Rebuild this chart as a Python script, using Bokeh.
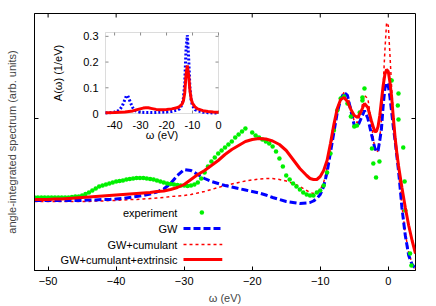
import math
from bokeh.plotting import figure
from bokeh.models import FixedTicker, Range1d, BoxAnnotation
from bokeh.core.properties import value
from bokeh.embed import file_html
from bokeh.resources import INLINE

# ---------------- data: main panel (arb. units) ----------------
omega_theory = ([float(w) for w in range(-52, -11)] +
                [-11.5, -11, -10.5, -10, -9.5, -9, -8.5, -8, -7.5, -7, -6.5, -6, -5.5, -5,
                 -4.5, -4, -3.5, -3, -2.5] +
                [-2, -1.75, -1.5, -1.25, -1, -0.75, -0.5, -0.25, 0, 0.25, 0.5, 0.75, 1,
                 1.25, 1.5, 1.75, 2] +
                [2.5, 3, 3.5, 4])

gw = [70, 70, 70, 70, 70, 70, 70, 70, 70.5, 70.5, 71, 71, 71.5, 72, 73, 74, 75, 76.5, 78.5,
      81.5, 87, 95, 101, 100, 96, 92, 89, 87, 85, 83.5, 82, 80.5, 79, 77.5, 75.5, 73, 71,
      69, 68, 67, 67.5,
      68, 69.5, 72, 76, 84, 98, 118, 138, 158, 171, 178, 175, 160, 145, 144, 152, 160, 152, 137,
      123, 119, 120, 130, 142, 165, 182, 188, 185, 173, 158, 143, 130, 115, 100, 82, 63,
      35, 15, 6, 2]

gw_cum = [69, 69, 69, 69, 69, 69, 69, 69, 69, 69.5, 69.5, 70, 70, 70.5, 71, 71, 71.5, 72,
          72.5, 73, 74, 74.5, 75, 76, 77.5, 79, 81, 83, 85, 86.5, 88, 89.5, 90.5, 91.5, 92,
          92, 91, 89.5, 87, 84, 80,
          78, 77, 78, 81, 88, 102, 120, 140, 160, 173, 178, 175, 163, 149, 148, 160, 175, 172, 148,
          122, 118, 120, 132, 152, 185, 220, 248, 245, 215, 182, 155, 135, 117, 100, 82, 65,
          37, 18, 7, 2]

gw_cum_ext = [71, 71, 71, 71.5, 71.5, 72, 72.5, 73, 73.5, 74, 74.5, 75, 75.5, 76, 76.5, 77,
              77.5, 78, 79, 79.5, 81, 83, 86, 91, 96, 100, 105, 110, 116, 121, 125, 129, 131,
              132, 131.5, 129.5, 126, 120, 111, 102, 95,
              92, 91, 91, 94, 100, 110, 127, 146, 162, 171, 173, 169, 161, 155, 153, 159, 167, 163, 150,
              139, 139, 144, 155, 170, 185, 196, 201, 199, 188, 173, 152, 133, 118, 105, 94, 83,
              63, 45, 30, 17]

omega_exp = [-52, -51.5, -51, -50.5, -50, -49.5, -49, -48.5, -48, -47.5, -47, -46.5, -46, -45.5,
             -45, -44.5, -44, -43.5, -43, -42.5, -42, -41.5, -41, -40.5, -40, -39.5, -39, -38.5,
             -38, -37.5, -37, -36.5, -36, -35.5, -35, -34.5, -34, -33.5, -33, -32.5, -32, -31.5,
             -31, -30.5, -30, -29.5, -29, -28.5, -28, -27.5, -27, -26.5, -26, -25.5, -25, -24.5,
             -24, -23.5, -23, -22.5, -22, -21.5, -21, -20, -19.5, -19, -18.5, -18, -17.5, -17,
             -16.5, -16, -15.5, -15, -14.5, -14, -13.5, -13, -12.5, -12, -11.5, -11, -10.5, -10,
             -9.5, -9, -8.5, -8, -7.5, -7, -6.5, -6, -5.5, -5, -4.6, -4.2, -3.8, -3.8, -3.5,
             -2.4, -2.2, -1.8, -1.3, 0.5, 1.4, 1.5, 1.5, 2.2, 2.4, 2.5, 3.2, 3.4]
experiment = [73, 73, 73, 73, 73, 73, 73, 73, 73, 73, 73, 73.5, 74, 74, 75, 76.5, 78, 80, 82,
              84, 85, 86, 87, 88, 89, 89.5, 90, 91, 91.5, 92, 92.5, 92.5, 92.5, 92, 91.5, 91,
              90, 89, 88, 87, 86.5, 86, 85.5, 85, 85, 84.5, 85, 86, 88, 92, 98, 104, 109, 113,
              117, 120, 123, 126, 129, 133, 136, 139, 142, 138, 135, 133, 131, 129, 127, 124,
              119, 112, 104, 95, 91, 87, 84, 81, 78, 76, 75, 75, 78, 80, 85, 98, 117, 140, 160,
              172, 174, 167, 154, 144, 145, 158, 170, 173, 182, 122, 107, 93, 109, 190, 165,
              177, 151, 123, 89, 60, 17, 5]

X_RANGE = (-52, 4)
Y_RANGE = (0, 257)
x_ticks = [-50, -40, -30, -20, -10, 0]
x_ticks_top = [-50, -40, -20, -10, 0]
y_ticks = [152]

# ---------------- data: inset A(omega) ----------------
omega_inset_gw = [-43.5, -42, -40, -39, -38, -37, -36, -35.5, -35, -34.5, -34, -33, -32, -31,
                  -30, -28, -25, -22, -20, -18, -16, -15, -14, -13.5, -13, -12.5, -12, -11.5,
                  -11, -10.5, -10, -9, -8, -6, -4, -2, 0]
a_gw = [0.002, 0.003, 0.005, 0.008, 0.015, 0.03, 0.055, 0.068, 0.07, 0.06, 0.045, 0.022, 0.011,
        0.007, 0.005, 0.004, 0.004, 0.005, 0.006, 0.008, 0.013, 0.018, 0.035, 0.06, 0.12, 0.25,
        0.305, 0.22, 0.1, 0.05, 0.03, 0.015, 0.01, 0.005, 0.003, 0.002, 0.002]
omega_inset_ext = [-43.5, -40, -36, -33, -31, -29, -28, -27, -26, -24, -22, -20, -18, -16, -15,
                   -14, -13.5, -13, -12.5, -12, -11.5, -11, -10.5, -10, -9, -8, -6, -4, -2, 0]
a_ext = [0.003, 0.004, 0.006, 0.01, 0.016, 0.021, 0.022, 0.022, 0.02, 0.016, 0.015, 0.016,
         0.018, 0.022, 0.027, 0.037, 0.05, 0.08, 0.15, 0.187, 0.15, 0.09, 0.055, 0.04, 0.025,
         0.018, 0.011, 0.008, 0.006, 0.005]
INSET_X = (-43.5, 0)
INSET_Y = (0, 0.315)
inset_x_ticks = [-40, -30, -20, -10, 0]
inset_y_ticks = [0, 0.1, 0.2, 0.3]
inset_y_labels = ["0", "0.1", "0.2", "0.3"]

# legend entries (label, row position in data units)
legend_labels = ["experiment", "GW", "GW+cumulant", "GW+cumulant+extrinsic"]
legend_rows = [58, 42, 26, 11]
legend_text_x = -31.0
legend_sample_x = [-30.1, -24.4]
legend_dot_x = -27.4

# ---------------- layout constants (pixels) ----------------
FIG_W, FIG_H = 436, 306
B_LEFT, B_RIGHT, B_TOP, B_BOTTOM = 34, 21, 13, 36
FRAME_W = FIG_W - B_LEFT - B_RIGHT
FRAME_H = FIG_H - B_TOP - B_BOTTOM
# inset frame box, relative to the main frame's top-left corner
IN_L, IN_R, IN_T, IN_B = 71, 184, 19, 100

FONT = "Liberation Sans"
BLUE = "#0000ff"
RED = "#ff0000"
GREEN = "#00f000"
GRAY = "#8c8c8c"

# ---------------- main figure ----------------
p = figure(width=FIG_W, height=FIG_H, x_range=X_RANGE, y_range=Y_RANGE,
           output_backend="svg", toolbar_location=None,
           min_border_left=B_LEFT, min_border_right=B_RIGHT,
           min_border_top=B_TOP, min_border_bottom=B_BOTTOM)
p.background_fill_color = "white"
p.border_fill_color = "white"
p.outline_line_color = "black"
p.grid.visible = False

p.xaxis.ticker = FixedTicker(ticks=x_ticks)
p.yaxis.ticker = FixedTicker(ticks=y_ticks)
for ax in [p.xaxis[0], p.yaxis[0]]:
    ax.major_tick_in = 4
    ax.major_tick_out = 0
    ax.minor_tick_line_color = None
    ax.axis_line_color = "black"
    ax.major_tick_line_color = "black"
    ax.major_label_text_font = FONT
    ax.major_label_text_font_size = "11px"
    ax.major_label_text_color = "black"
    ax.axis_label_text_font = FONT
    ax.axis_label_text_font_size = "11px"
    ax.axis_label_text_font_style = "normal"
p.xaxis.major_label_standoff = 6
p.xaxis.axis_label = "ω (eV)"
p.xaxis.axis_label_standoff = 4
p.yaxis.axis_label = "angle-integrated spectrum (arb. units)"
p.yaxis.major_label_overrides = {t: "" for t in y_ticks}
p.yaxis.major_label_standoff = 0
p.yaxis.axis_label_standoff = 17

# mirror ticks (top and right borders), 4 px long
px_x = (X_RANGE[1] - X_RANGE[0]) / FRAME_W
px_y = (Y_RANGE[1] - Y_RANGE[0]) / FRAME_H
p.segment(x0=x_ticks_top, x1=x_ticks_top, y0=[Y_RANGE[1]] * len(x_ticks_top),
          y1=[Y_RANGE[1] - 4 * px_y] * len(x_ticks_top), line_color="black", line_width=1)
p.segment(x0=[X_RANGE[1]] * len(y_ticks), x1=[X_RANGE[1] - 4 * px_x] * len(y_ticks),
          y0=y_ticks, y1=y_ticks, line_color="black", line_width=1)

p.line(omega_theory, gw_cum, line_color=RED, line_width=1.5, line_dash="3 3")
p.line(omega_theory, gw, line_color=BLUE, line_width=3, line_dash="7 3")
p.scatter(omega_exp, experiment, size=4.5, fill_color=GREEN, line_color=None)
p.line(omega_theory, gw_cum_ext, line_color=RED, line_width=3)

# manual gnuplot-style legend (text then sample)
p.text(x=[legend_text_x] * 4, y=legend_rows, text=legend_labels, text_align="right",
       text_baseline="middle", text_font=value(FONT), text_font_size="11px", text_color="black")
p.scatter([legend_dot_x], [legend_rows[0]], size=4.5, fill_color=GREEN, line_color=None)
p.line(legend_sample_x, [legend_rows[1]] * 2, line_color=BLUE, line_width=3, line_dash="7 3")
p.line(legend_sample_x, [legend_rows[2]] * 2, line_color=RED, line_width=1.5, line_dash="3 3")
p.line(legend_sample_x, [legend_rows[3]] * 2, line_color=RED, line_width=3)

# ---------------- inset (own ranges mapped onto a sub-box of the frame) ----------------
ix = (INSET_X[1] - INSET_X[0]) / (IN_R - IN_L)     # eV per px
iy = (INSET_Y[1] - INSET_Y[0]) / (IN_B - IN_T)     # units per px
p.extra_x_ranges = {"ix": Range1d(INSET_X[0] - IN_L * ix, INSET_X[1] + (FRAME_W - IN_R) * ix)}
p.extra_y_ranges = {"iy": Range1d(INSET_Y[0] - (FRAME_H - IN_B) * iy, INSET_Y[1] + IN_T * iy)}
R = dict(x_range_name="ix", y_range_name="iy")

p.add_layout(BoxAnnotation(left=INSET_X[0], right=INSET_X[1], bottom=INSET_Y[0], top=INSET_Y[1],
                           fill_color="white", fill_alpha=1, line_color=GRAY, line_width=1,
                           level="underlay", **R))
# inset ticks (3 px, inward, all four sides)
nxt, nyt = len(inset_x_ticks), len(inset_y_ticks)
p.segment(x0=inset_x_ticks, x1=inset_x_ticks, y0=[INSET_Y[0]] * nxt,
          y1=[INSET_Y[0] + 3 * iy] * nxt, line_color=GRAY, **R)
p.segment(x0=inset_x_ticks, x1=inset_x_ticks, y0=[INSET_Y[1]] * nxt,
          y1=[INSET_Y[1] - 3 * iy] * nxt, line_color=GRAY, **R)
p.segment(x0=[INSET_X[0]] * nyt, x1=[INSET_X[0] + 3 * ix] * nyt, y0=inset_y_ticks,
          y1=inset_y_ticks, line_color=GRAY, **R)
p.segment(x0=[INSET_X[1]] * nyt, x1=[INSET_X[1] - 3 * ix] * nyt, y0=inset_y_ticks,
          y1=inset_y_ticks, line_color=GRAY, **R)

p.line(omega_inset_gw, a_gw, line_color=BLUE, line_width=3, line_dash="2 2", **R)
p.line(omega_inset_ext, a_ext, line_color=RED, line_width=3, **R)

txt = dict(text_font=value(FONT), text_font_size="11px", text_color="black")
p.text(x=inset_x_ticks, y=[INSET_Y[0]] * nxt, text=[str(t) for t in inset_x_ticks],
       text_align="center", text_baseline="middle", y_offset=11, **txt, **R)
p.text(x=[INSET_X[0]] * nyt, y=inset_y_ticks, text=inset_y_labels,
       text_align="right", text_baseline="middle", x_offset=-7, **txt, **R)
p.text(x=[(INSET_X[0] + INSET_X[1]) / 2], y=[INSET_Y[0]], text=["ω (eV)"],
       text_align="center", text_baseline="middle", y_offset=21, **txt, **R)
p.text(x=[INSET_X[0]], y=[(INSET_Y[0] + INSET_Y[1]) / 2], text=["A(ω) (1/eV)"],
       text_align="center", text_baseline="middle", x_offset=-48, angle=math.pi / 2,
       **txt, **R)

open("out.html", "w").write(file_html(p, INLINE))
